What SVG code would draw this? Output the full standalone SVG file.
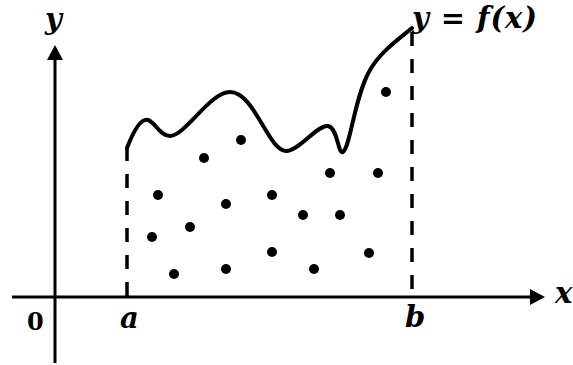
<svg xmlns="http://www.w3.org/2000/svg" width="573" height="365" viewBox="0 0 573 365">
<style>
.axis{stroke:#000;stroke-width:3;fill:none}
.dash{stroke:#000;stroke-width:3.5;stroke-dasharray:14 13;fill:none}
.curve{stroke:#000;stroke-width:4;fill:none;stroke-linejoin:round;stroke-linecap:round}
.dot{fill:#000}
.lbl{font-family:"DejaVu Serif","Liberation Serif",serif;font-weight:bold;font-style:italic;font-size:29px;fill:#000}
.num{font-family:"DejaVu Serif","Liberation Serif",serif;font-weight:bold;fill:#000}
</style>
<defs>
<marker id="arr" markerUnits="userSpaceOnUse" markerWidth="16" markerHeight="16" refX="2" refY="8" orient="auto" viewBox="0 0 16 16">
<path d="M0,0 L15,8 L0,16 z" fill="#000"/>
</marker>
</defs>
<g id="connectors">
<line id="y-axis" class="axis" x1="55" y1="363" x2="55" y2="58" marker-end="url(#arr)"/>
<line id="x-axis" class="axis" x1="12" y1="297" x2="532" y2="297" marker-end="url(#arr)"/>
<line id="dash-a" class="dash" x1="127" y1="147" x2="127" y2="297"/>
<line id="dash-b" class="dash" x1="412" y1="32" x2="412" y2="297"/>
</g>
<g id="curve">
<path class="curve" d="M127,148 C132,135 140,118 148,120 C155,122 160,136 170,136 C185,136 210,92 230,92 C255,92 268,152 287,151 C300,150 318,124 328,126 C338,128 338,155 343,152 C350,148 355,95 370,70 C380,52 400,38 412,28"/>
</g>
<g id="dots">
<circle class="dot" cx="204" cy="158" r="5"/>
<circle class="dot" cx="241" cy="140" r="5"/>
<circle class="dot" cx="386" cy="92" r="5"/>
<circle class="dot" cx="330" cy="173" r="5"/>
<circle class="dot" cx="378" cy="173" r="5"/>
<circle class="dot" cx="158" cy="195" r="5"/>
<circle class="dot" cx="226" cy="204" r="5"/>
<circle class="dot" cx="272" cy="195" r="5"/>
<circle class="dot" cx="190" cy="227" r="5"/>
<circle class="dot" cx="152" cy="237" r="5"/>
<circle class="dot" cx="303" cy="215" r="5"/>
<circle class="dot" cx="340" cy="215" r="5"/>
<circle class="dot" cx="272" cy="252" r="5"/>
<circle class="dot" cx="369" cy="253" r="5"/>
<circle class="dot" cx="174" cy="274" r="5"/>
<circle class="dot" cx="226" cy="269" r="5"/>
<circle class="dot" cx="314" cy="269" r="5"/>
</g>
<g id="labels">
<text class="lbl" x="45" y="29">y</text>
<text class="lbl" x="412" y="28" textLength="125" lengthAdjust="spacing">y = f(x)</text>
<text class="num" x="27" y="330" font-size="24">0</text>
<text class="lbl" x="120" y="328">a</text>
<text class="lbl" x="405" y="327">b</text>
<text class="lbl" x="555" y="303">x</text>
</g>
</svg>
